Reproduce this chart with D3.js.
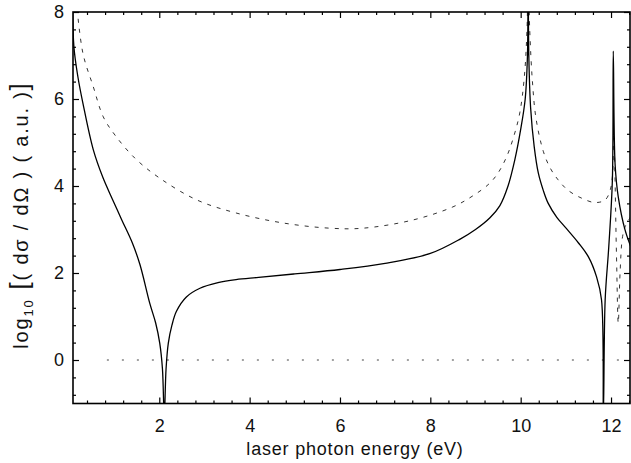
<!DOCTYPE html>
<html>
<head>
<meta charset="utf-8">
<script src="https://cdn.jsdelivr.net/npm/d3@7"></script>
<style>
  body { margin: 0; background: #fff; }
  text { font-family: "Liberation Sans", Arial, sans-serif; fill: #111; }
  .tick text { font-family: "Liberation Sans Narrow", "Liberation Sans", Arial, sans-serif; }
</style>
</head>
<body>
<div id="chart"></div>
<script>
//-----------------------------DATA-----------------------------//
// [photon energy (eV), log10 cross section]
const solidCurve = [
  [0.08, 8.4], [0.11, 7.2], [0.2, 6.5], [0.31, 5.9], [0.54, 4.83], [0.75, 4.2],
  [0.97, 3.68], [1.17, 3.22], [1.4, 2.7], [1.57, 2.2], [1.79, 1.3], [1.92, 0.85],
  [2.01, 0.39], [2.07, -0.2], [2.11, -1.3], [2.15, -0.2], [2.2, 0.39], [2.28, 0.8],
  [2.38, 1.12], [2.6, 1.45], [2.9, 1.65], [3.3, 1.78], [3.7, 1.85], [4.2, 1.9],
  [5.0, 1.98], [6.0, 2.08], [7.0, 2.22], [8.0, 2.45], [8.66, 2.78], [9.0, 3.0],
  [9.32, 3.27], [9.54, 3.55], [9.72, 4.0], [9.87, 4.6], [10.0, 5.3], [10.1, 6.0],
  [10.15, 7.0], [10.165, 9.0], [10.18, 7.0], [10.22, 5.8], [10.3, 4.9], [10.39, 4.3],
  [10.5, 3.9], [10.61, 3.6], [10.8, 3.28], [10.98, 3.06], [11.28, 2.69], [11.5, 2.37],
  [11.68, 1.91], [11.79, 1.38], [11.83, -1.3], [11.87, 1.38], [11.95, 2.6], [12.03, 4.14],
  [12.05, 7.1], [12.09, 4.5], [12.16, 3.75], [12.31, 2.99], [12.44, 2.6]
];

const dashedCurve = [
  [0.16, 8.3], [0.31, 7.05], [0.54, 6.28], [0.76, 5.59], [1.02, 5.17], [1.46, 4.64],
  [2.01, 4.18], [2.83, 3.68], [3.7, 3.38], [4.74, 3.15], [5.78, 3.03], [6.51, 3.03],
  [7.62, 3.22], [8.5, 3.52], [8.95, 3.78], [9.3, 4.05], [9.5, 4.3], [9.7, 4.7],
  [9.85, 5.15], [9.98, 5.68], [10.08, 6.5], [10.14, 7.6], [10.165, 9.0], [10.2, 7.6],
  [10.26, 6.4], [10.34, 5.55], [10.5, 4.8], [10.65, 4.42], [10.83, 4.14], [11.05, 3.9],
  [11.35, 3.72], [11.64, 3.62], [11.87, 3.68], [11.98, 3.9], [12.03, 4.21], [12.06, 5.2],
  [12.12, 2.45], [12.16, 0.85], [12.2, 2.0], [12.25, 2.8], [12.31, 3.06], [12.44, 3.3]
];

const xMajorTicks = [2, 4, 6, 8, 10, 12];
const yMajorTicks = [0, 2, 4, 6, 8];
const refLevel = 0;
const refStart = 0.84;

//---------------------------SVG--------------------------------//
const width = 631;
const height = 463;
const pLeft = 73, pRight = 630, pTop = 12, pBottom = 403.5;

const svg = d3.select("#chart")
  .append("svg")
  .attr("width", width)
  .attr("height", height);

//----------------------------SCALES----------------------------//
const xScale = d3.scaleLinear().domain([0.09, 12.42]).range([pLeft, pRight]);
const yScale = d3.scaleLinear().domain([-1, 8]).range([pBottom, pTop]);

const xMinor = d3.range(0.4, 12.42, 0.4).filter(v => Math.abs(v / 2 - Math.round(v / 2)) > 0.01);
const yMinor = d3.range(-0.8, 8, 0.4).filter(v => Math.abs(v / 2 - Math.round(v / 2)) > 0.01);

svg.append("clipPath").attr("id", "plot")
  .append("rect")
  .attr("x", pLeft).attr("y", pTop)
  .attr("width", pRight - pLeft).attr("height", pBottom - pTop);

//----------------------------LINES-----------------------------//
const line = d3.line()
  .x(d => xScale(d[0]))
  .y(d => yScale(d[1]))
  .curve(d3.curveCatmullRom.alpha(0.5));

const g = svg.append("g").attr("clip-path", "url(#plot)");

g.append("line")
  .attr("x1", xScale(refStart)).attr("x2", xScale(12.42))
  .attr("y1", yScale(refLevel)).attr("y2", yScale(refLevel))
  .attr("stroke", "#444")
  .attr("stroke-width", 1)
  .attr("stroke-dasharray", "2,13");

g.append("path")
  .attr("d", line(dashedCurve))
  .attr("fill", "none")
  .attr("stroke", "#333")
  .attr("stroke-width", 1)
  .attr("stroke-dasharray", "4,6");

g.append("path")
  .attr("d", line(solidCurve))
  .attr("fill", "none")
  .attr("stroke", "#000")
  .attr("stroke-width", 1.3);

//-----------------------------AXES-----------------------------//
function styleAxis(sel) {
  sel.select(".domain").remove();
  sel.selectAll("line").attr("stroke", "#000").attr("stroke-width", 1.2);
  sel.selectAll("text").style("font-size", "18px");
}

svg.append("g")
  .attr("transform", "translate(0," + pBottom + ")")
  .call(d3.axisBottom(xScale).tickValues(xMajorTicks).tickSize(-6).tickPadding(16).tickFormat(d3.format("d")))
  .call(styleAxis);
svg.append("g")
  .attr("transform", "translate(0," + pBottom + ")")
  .call(d3.axisBottom(xScale).tickValues(xMinor).tickSize(-3).tickFormat(""))
  .call(styleAxis);
svg.append("g")
  .attr("transform", "translate(0," + pTop + ")")
  .call(d3.axisTop(xScale).tickValues(xMajorTicks).tickSize(-6).tickFormat(""))
  .call(styleAxis);
svg.append("g")
  .attr("transform", "translate(0," + pTop + ")")
  .call(d3.axisTop(xScale).tickValues(xMinor).tickSize(-3).tickFormat(""))
  .call(styleAxis);

svg.append("g")
  .attr("transform", "translate(" + pLeft + ",0)")
  .call(d3.axisLeft(yScale).tickValues(yMajorTicks).tickSize(-6).tickPadding(9).tickFormat(d3.format("d")))
  .call(styleAxis);
svg.append("g")
  .attr("transform", "translate(" + pLeft + ",0)")
  .call(d3.axisLeft(yScale).tickValues(yMinor).tickSize(-3).tickFormat(""))
  .call(styleAxis);
svg.append("g")
  .attr("transform", "translate(" + pRight + ",0)")
  .call(d3.axisRight(yScale).tickValues(yMajorTicks).tickSize(-6).tickFormat(""))
  .call(styleAxis);
svg.append("g")
  .attr("transform", "translate(" + pRight + ",0)")
  .call(d3.axisRight(yScale).tickValues(yMinor).tickSize(-3).tickFormat(""))
  .call(styleAxis);

// frame
svg.append("rect")
  .attr("x", pLeft).attr("y", pTop)
  .attr("width", pRight - pLeft).attr("height", pBottom - pTop)
  .attr("fill", "none")
  .attr("stroke", "#000")
  .attr("stroke-width", 1.6);

//----------------------------LABELS----------------------------//
svg.append("text")
  .attr("x", 355)
  .attr("y", 455)
  .attr("text-anchor", "middle")
  .style("font-size", "18px")
  .style("letter-spacing", "0.8px")
  .text("laser photon energy (eV)");

const ylab = svg.append("text")
  .attr("transform", "translate(28,215) rotate(-90)")
  .attr("text-anchor", "middle")
  .style("font-size", "20px")
  .style("letter-spacing", "1.8px");
ylab.append("tspan").text("log");
ylab.append("tspan").attr("dy", 5).style("font-size", "13px").text("10");
ylab.append("tspan").attr("dy", -5).style("font-size", "26px").text(" [");
ylab.append("tspan").text("( dσ / dΩ ) ( a.u. )");
ylab.append("tspan").style("font-size", "26px").text("]");
</script>
</body>
</html>
